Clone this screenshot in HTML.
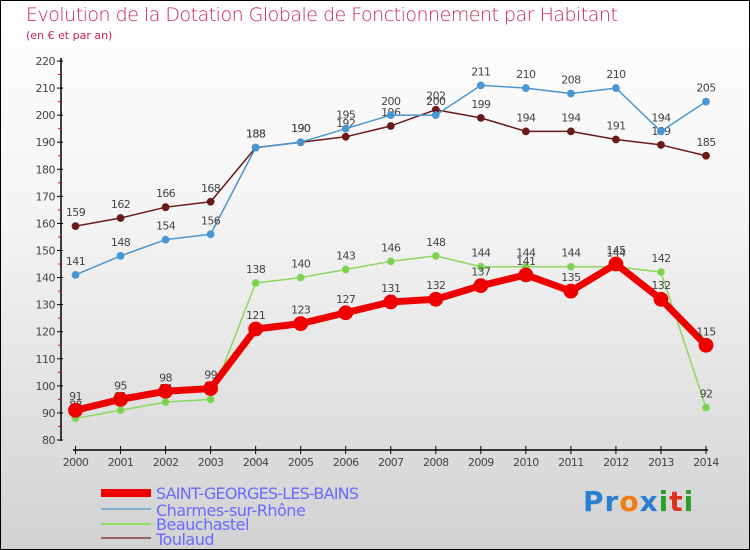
<!DOCTYPE html>
<html><head><meta charset="utf-8"><style>
body{margin:0}
#wrap{width:748px;height:548px;border:1px solid #000;position:relative;background:linear-gradient(#ffffff,#f4f4f4 40%,#d2d2d2);font-family:"DejaVu Sans","Liberation Sans",sans-serif;overflow:hidden}
.t{position:absolute;white-space:nowrap}
</style></head><body>
<div id="wrap">
<div class="t" style="left:25px;top:3px;font-size:19px;color:#c8264e;font-weight:200;letter-spacing:-0.5px">Evolution de la Dotation Globale de Fonctionnement par Habitant</div>
<div class="t" style="left:25px;top:28px;font-size:11px;color:#c8264e">(en € et par an)</div>
<svg id="svg" width="750" height="550" style="position:absolute;left:-1px;top:-1px"></svg>
<div class="t" style="left:155px;top:483px;font-size:16px;color:#6a6aff;letter-spacing:-0.8px">SAINT-GEORGES-LES-BAINS</div>
<div class="t" style="left:155px;top:500px;font-size:16px;color:#6a6aff;letter-spacing:-0.5px">Charmes-sur-Rhône</div>
<div class="t" style="left:155px;top:514px;font-size:16px;color:#6a6aff;letter-spacing:-0.5px">Beauchastel</div>
<div class="t" style="left:155px;top:529px;font-size:16px;color:#6a6aff;letter-spacing:-0.5px">Toulaud</div>
<div class="t" style="left:582px;top:484px;font-size:28px;font-weight:bold;letter-spacing:1px"><span style="color:#2a7fd0">Pr</span><span style="color:#f07c10">o</span><span style="color:#2a7fd0">x</span><span style="color:#2aa02a">i</span><span style="color:#e03020">t</span><span style="color:#2aa02a">i</span></div>
</div>
<script>
const years=[2000,2001,2002,2003,2004,2005,2006,2007,2008,2009,2010,2011,2012,2013,2014];
const yTicks=[80,90,100,110,120,130,140,150,160,170,180,190,200,210,220];
const sgb=[91,95,98,99,121,123,127,131,132,137,141,135,145,132,115];
const charmes=[141,148,154,156,188,190,195,200,200,211,210,208,210,194,205];
const beauchastel=[88,91,94,95,138,140,143,146,148,144,144,144,144,142,92];
const toulaud=[159,162,166,168,188,190,192,196,202,199,194,194,191,189,185];
const NS="http://www.w3.org/2000/svg";
const svg=document.getElementById('svg');
const X=i=>75.5+i*(706-75.5)/(years.length-1);
const Y=v=>440-(v-80)*(440-61)/140;
function mk(t,a,p){const e=document.createElementNS(NS,t);for(const k in a)e.setAttribute(k,a[k]);(p||svg).appendChild(e);return e;}
// axes
const ax=mk('g',{});


mk('line',{x1:61,y1:58,x2:61,y2:441,stroke:'#000','stroke-width':1.5},ax);
mk('line',{x1:73,y1:450,x2:708,y2:450,stroke:'#000','stroke-width':1.5},ax);
yTicks.forEach(v=>{
  mk('line',{x1:57,y1:Y(v),x2:63,y2:Y(v),stroke:'#000'},ax);
  if(v<220)mk('line',{x1:58,y1:Y(v+5),x2:61,y2:Y(v+5),stroke:'#e00'},ax);
  const t=mk('text',{x:55,y:Y(v)+4,'text-anchor':'end','font-size':11,fill:'#444','font-family':'DejaVu Sans,sans-serif','letter-spacing':'-0.5'},ax);
  t.textContent=v;
  
  
});
years.forEach((yr,i)=>{
  mk('line',{x1:X(i),y1:446,x2:X(i),y2:454,stroke:'#000'},ax);
  const t=mk('text',{x:X(i),y:466,'text-anchor':'middle','font-size':11,fill:'#444','font-family':'DejaVu Sans,sans-serif','letter-spacing':'-0.6'},ax);
  t.textContent=yr;
  
  
});
function series(name,data,color,width,r,fill){
  const g=mk('g',{});
  
  
  mk('polyline',{points:data.map((v,i)=>X(i)+','+Y(v)).join(' '),fill:'none',stroke:color,'stroke-width':width,'stroke-linejoin':'round'},g);
  data.forEach((v,i)=>{
    const c=mk('circle',{cx:X(i),cy:Y(v),r:r,fill:fill,stroke:color,'stroke-width':0.8},g);
    
    
    const t=mk('text',{x:X(i),y:Y(v)-10,'text-anchor':'middle','font-size':11,fill:'#444','font-family':'DejaVu Sans,sans-serif','letter-spacing':'-0.6'},g);
    t.textContent=v;
    
    
  });
}
series('toulaud-line',toulaud,'#6b1a1a',1.5,3.5,'#6b1a1a');
series('charmes-line',charmes,'#4a96d0',1.5,3.5,'#4a96d0');
series('beauchastel-line',beauchastel,'#8cd860',1.5,3.5,'#7ed050');
series('saint-georges-line',sgb,'#ee0000',7,7,'#ee0000');
// legend swatches
const lg=[['#ee0000',8,493],['#80b0d0',2,509],['#90dd60',2,524],['#9a6060',2,538]];
lg.forEach(([c,w,y])=>{const l=mk('line',{x1:101,y1:y,x2:151,y2:y,stroke:c,'stroke-width':w});

});
</script>
</body></html>
